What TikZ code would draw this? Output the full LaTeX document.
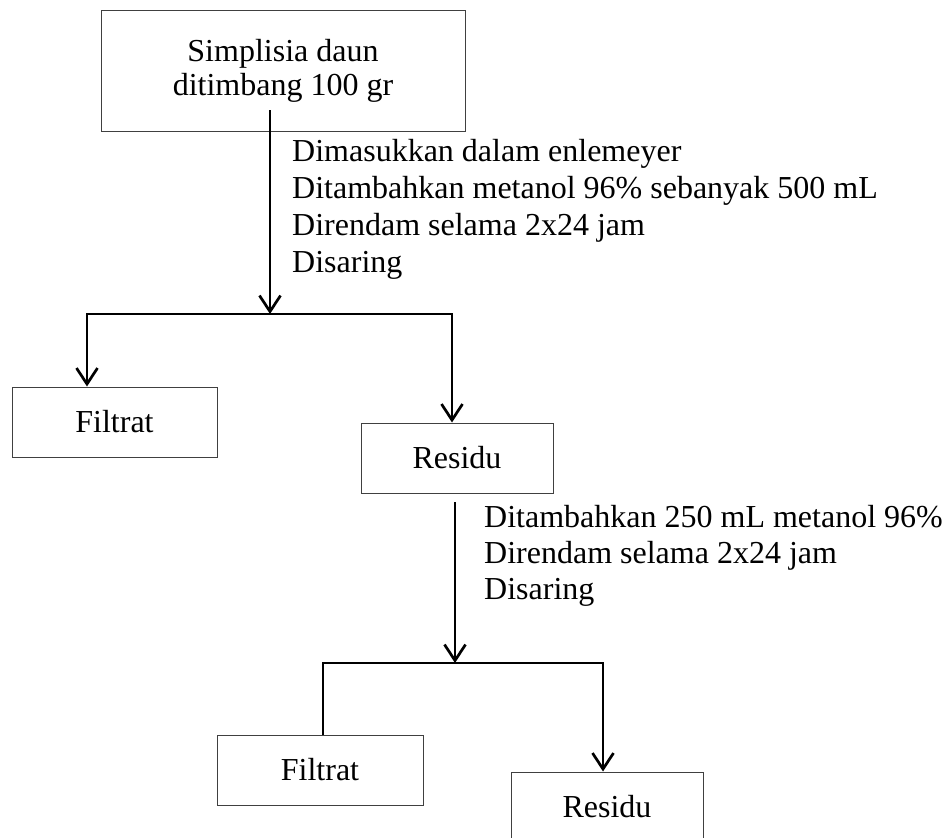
\documentclass[tikz,border=0pt]{standalone}
\usepackage{fontspec}
\setmainfont{Liberation Serif}
\usetikzlibrary{arrows.meta}
\begin{document}
\begin{tikzpicture}[x=1pt,y=-1pt,
  box/.style={draw=black!75, line width=1pt, inner sep=0pt, font=\fontsize{32}{34}\selectfont, align=center},
  lbl/.style={anchor=base west, inner sep=0pt, font=\fontsize{32}{37}\selectfont},
  conn/.style={line width=2.7pt, draw=black, line join=miter},
  tip/.style={-{Straight Barb[length=16pt,width=21pt]}},
  biarr/.style={{Straight Barb[length=16pt,width=21pt]}-{Straight Barb[length=16pt,width=21pt]}}
]
\useasboundingbox (0,0) rectangle (943,838);
% boxes
\node[box, minimum width=364pt, minimum height=121pt] (top) at (283,70.5) {Simplisia daun\\ditimbang 100 gr};
\node[box, minimum width=205pt, minimum height=70pt] (f1) at (114.5,422) {Filtrat};
\node[box, minimum width=192pt, minimum height=70pt] (r1) at (457,458) {Residu};
\node[box, minimum width=206pt, minimum height=70pt] (f2) at (320,770) {Filtrat};
\node[box, minimum width=192pt, minimum height=70pt] (r2) at (607,807) {Residu};
% step labels
\node[lbl] (a1) at (292,161) {Dimasukkan dalam enlemeyer};
\node[lbl] (a2) at (292,198) {Ditambahkan metanol 96\% sebanyak 500 mL};
\node[lbl] (a3) at (292,235) {Direndam selama 2x24 jam};
\node[lbl] (a4) at (292,272) {Disaring};
\node[lbl] (b1) at (484,527) {Ditambahkan 250 mL metanol 96\%};
\node[lbl] (b2) at (484,563) {Direndam selama 2x24 jam};
\node[lbl] (b3) at (484,599) {Disaring};
% connector points
\coordinate (s1) at (270,110);
\coordinate (j1) at (270,314);
\coordinate (l1) at (87,314);
\coordinate (q1) at (452,314);
\coordinate (s2) at (455,502);
\coordinate (j2) at (455,663);
\coordinate (l2) at (323,663);
\coordinate (q2) at (603,663);
% connectors
\draw[conn, tip] (s1) -- (j1);
\draw[conn, biarr] (l1 |- f1.north) -- (l1) -- (q1) -- (q1 |- r1.north);
\draw[conn, tip] (s2) -- (j2);
\draw[conn, tip] (f2.north -| l2) -- (l2) -- (q2) -- (q2 |- r2.north);
\end{tikzpicture}
\end{document}
